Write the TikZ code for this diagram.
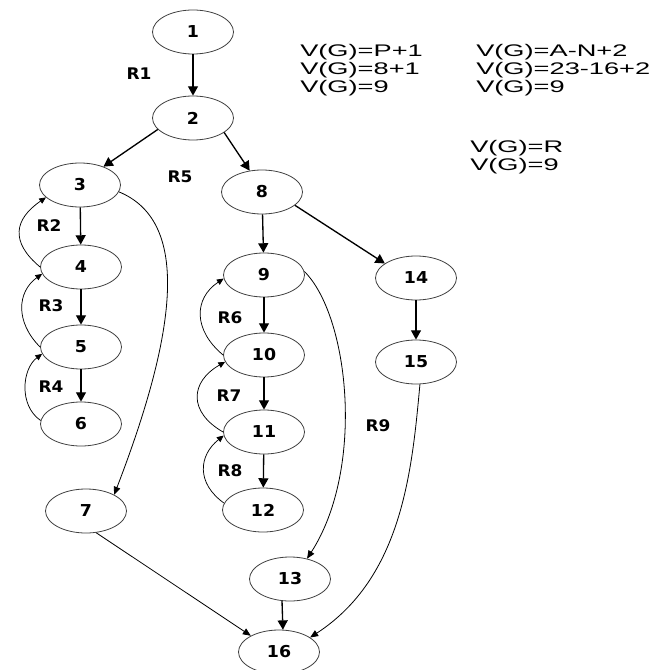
\documentclass[tikz,border=0pt]{standalone}
\usepackage{fontspec}
\setmainfont{Liberation Sans}
\newfontfamily\eqfont[FakeStretch=1.62]{Liberation Sans}
\newfontfamily\numfont[FakeStretch=1.06,BoldFont={DejaVu Sans Bold}]{DejaVu Sans}
\usetikzlibrary{shapes.geometric,arrows.meta}
\begin{document}
\begin{tikzpicture}[x=0.75pt,y=-0.75pt,
  vtx/.style={ellipse, draw=black!75, line width=0.6pt, minimum width=60.75pt, minimum height=33pt, inner sep=0pt, font=\numfont\bfseries\fontsize{12.3}{13}\selectfont},
  tree/.style={line width=1pt, -{Triangle[length=7pt,width=7.5pt]}},
  backloop/.style={line width=0.55pt, -{Triangle[length=5pt,width=4.5pt]}},
  longedge/.style={line width=0.6pt, -{Triangle[length=6pt,width=5pt]}},
  rlab/.style={font=\numfont\bfseries\fontsize{12}{13}\selectfont, inner sep=0pt},
  eq/.style={font=\eqfont\fontsize{12.6}{15}\selectfont, anchor=base west, inner sep=0pt}]
\useasboundingbox (0,0) rectangle (659,670);
\fill[white] (0,0) rectangle (659,670);
% nodes
\node[vtx] (n1) at (193,32) {1};
\node[vtx] (n2) at (193,118) {2};
\node[vtx] (n3) at (80,185) {3};
\node[vtx] (n4) at (81,267) {4};
\node[vtx] (n5) at (81,347) {5};
\node[vtx] (n6) at (81,424) {6};
\node[vtx] (n7) at (86,511) {7};
\node[vtx] (n8) at (262,192) {8};
\node[vtx] (n9) at (264,275) {9};
\node[vtx] (n10) at (264,355) {10};
\node[vtx] (n11) at (264,432) {11};
\node[vtx] (n12) at (263,510) {12};
\node[vtx] (n13) at (290,579) {13};
\node[vtx] (n14) at (416,278) {14};
\node[vtx] (n15) at (416,362) {15};
\node[vtx] (n16) at (279,652) {16};
% tree edges
\draw[tree] (n1) -- (n2);
\draw[tree] (n2.198) -- (n3.38);
\draw[tree] (n2.335) -- (n8.120);
\draw[tree] (n3) -- (n4);
\draw[tree] (n4) -- (n5);
\draw[tree] (n5) -- (n6);
\draw[tree] (n8) -- (n9);
\draw[tree] (n9) -- (n10);
\draw[tree] (n10) -- (n11);
\draw[tree] (n11) -- (n12);
\draw[tree] (n8.338) -- (n14.155);
\draw[tree] (n14) -- (n15);
\draw[tree] (n13.250) -- (n16.80);
% back edges
\draw[backloop] (n4.180) .. controls +(-30,-25) and +(-32,22) .. (n3.200);
\draw[backloop] (n5.180) .. controls +(-25,-25) and +(-25,18) .. (n4.190);
\draw[backloop] (n6.175) .. controls +(-22,-15) and +(-20,15) .. (n5.190);
\draw[backloop] (n10.180) .. controls +(-30,-25) and +(-30,20) .. (n9.185);
\draw[backloop] (n11.180) .. controls +(-35,-20) and +(-35,20) .. (n10.190);
\draw[backloop] (n12.170) .. controls +(-28,-20) and +(-25,20) .. (n11.185);
% long edges
\draw[longedge] (n3.350) .. controls +(68,28) and +(67,-174) .. (n7.30);
\draw[longedge] (n9.5) .. controls +(45,45) and +(58,-90) .. (n13.50);
\draw[longedge] (n15.280) .. controls +(-8,87) and +(92,-60) .. (n16.25);
\draw[longedge] (n7.295) -- (n16.150);
% region labels
\node[rlab] (r1) at (139,74) {R1};
\node[rlab] (r5) at (180,177) {R5};
\node[rlab] (r2) at (49,226) {R2};
\node[rlab] (r3) at (51,306) {R3};
\node[rlab] (r4) at (51,387) {R4};
\node[rlab] (r6) at (230,318) {R6};
\node[rlab] (r7) at (229,396) {R7};
\node[rlab] (r8) at (230,471) {R8};
\node[rlab] (r9) at (378,426) {R9};
% formulas
\node[eq] (e1) at (300,57) {V(G)=P+1};
\node[eq] (e2) at (300,75) {V(G)=8+1};
\node[eq] (e3) at (300,93) {V(G)=9};
\node[eq] (e4) at (476,57) {V(G)=A-N+2};
\node[eq] (e5) at (476,75) {V(G)=23-16+2};
\node[eq] (e6) at (476,93) {V(G)=9};
\node[eq] (e7) at (470,153) {V(G)=R};
\node[eq] (e8) at (470,171) {V(G)=9};
\end{tikzpicture}
\end{document}
